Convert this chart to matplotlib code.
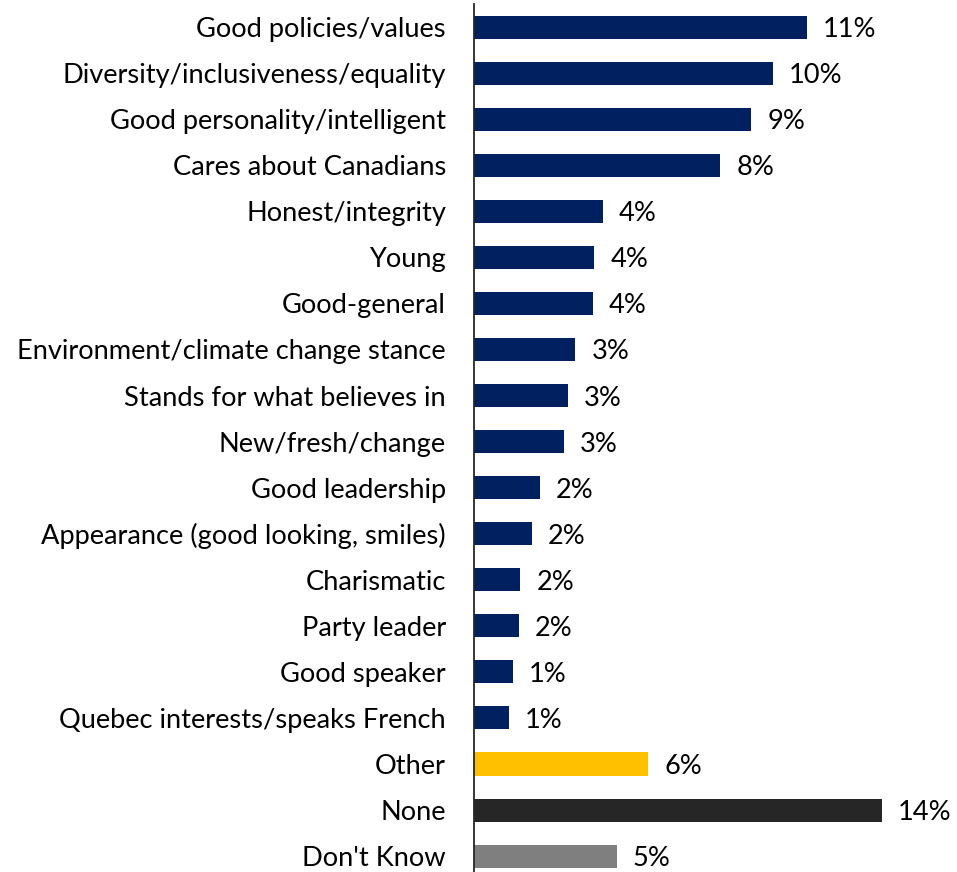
import matplotlib.pyplot as plt

# data
categories = [
    "Good policies/values",
    "Diversity/inclusiveness/equality",
    "Good personality/intelligent",
    "Cares about Canadians",
    "Honest/integrity",
    "Young",
    "Good-general",
    "Environment/climate change stance",
    "Stands for what believes in",
    "New/fresh/change",
    "Good leadership",
    "Appearance (good looking, smiles)",
    "Charismatic",
    "Party leader",
    "Good speaker",
    "Quebec interests/speaks French",
    "Other",
    "None",
    "Don't Know",
]
values = [11.29, 10.15, 9.41, 8.36, 4.38, 4.10, 4.04, 3.45, 3.20, 3.07,
          2.25, 1.98, 1.58, 1.53, 1.33, 1.20, 5.91, 13.84, 4.85]
value_labels = ["11%", "10%", "9%", "8%", "4%", "4%", "4%", "3%", "3%", "3%",
                "2%", "2%", "2%", "2%", "1%", "1%", "6%", "14%", "5%"]

navy = "#002060"
bar_colors = [navy] * 16 + ["#FFC000", "#262626", "#7F7F7F"]

plt.rcParams["font.family"] = ["Lato", "DejaVu Sans"]

W, H = 957, 872
fig = plt.figure(figsize=(W / 100, H / 100), dpi=100)

ax_left = 473.5
px_per_unit = 29.5
xmax = 15
row_px = 46.06
top_px = 4
n = len(categories)
ax_h = n * row_px
ax = fig.add_axes([ax_left / W, (H - top_px - ax_h) / H,
                   xmax * px_per_unit / W, ax_h / H])

y = list(range(n))
ax.barh(y, values, height=0.5, color=bar_colors)

# value labels
for yi, v, lab in zip(y, values, value_labels):
    ax.text(v + 0.55, yi, lab, va="center_baseline", ha="left",
            fontsize=19.6, color="black")

ax.set_ylim(n - 0.5, -0.5)
ax.set_xlim(0, xmax)
ax.set_yticks(y)
ax.set_yticklabels(categories, fontsize=19.6)
ax.tick_params(axis="y", length=0, pad=19.8)
ax.set_xticks([])

for s in ["top", "right", "bottom"]:
    ax.spines[s].set_visible(False)
ax.spines["left"].set_color("#262626")
ax.spines["left"].set_linewidth(1.3)
ax.set_facecolor("none")

fig.savefig("out.png", dpi=100)
